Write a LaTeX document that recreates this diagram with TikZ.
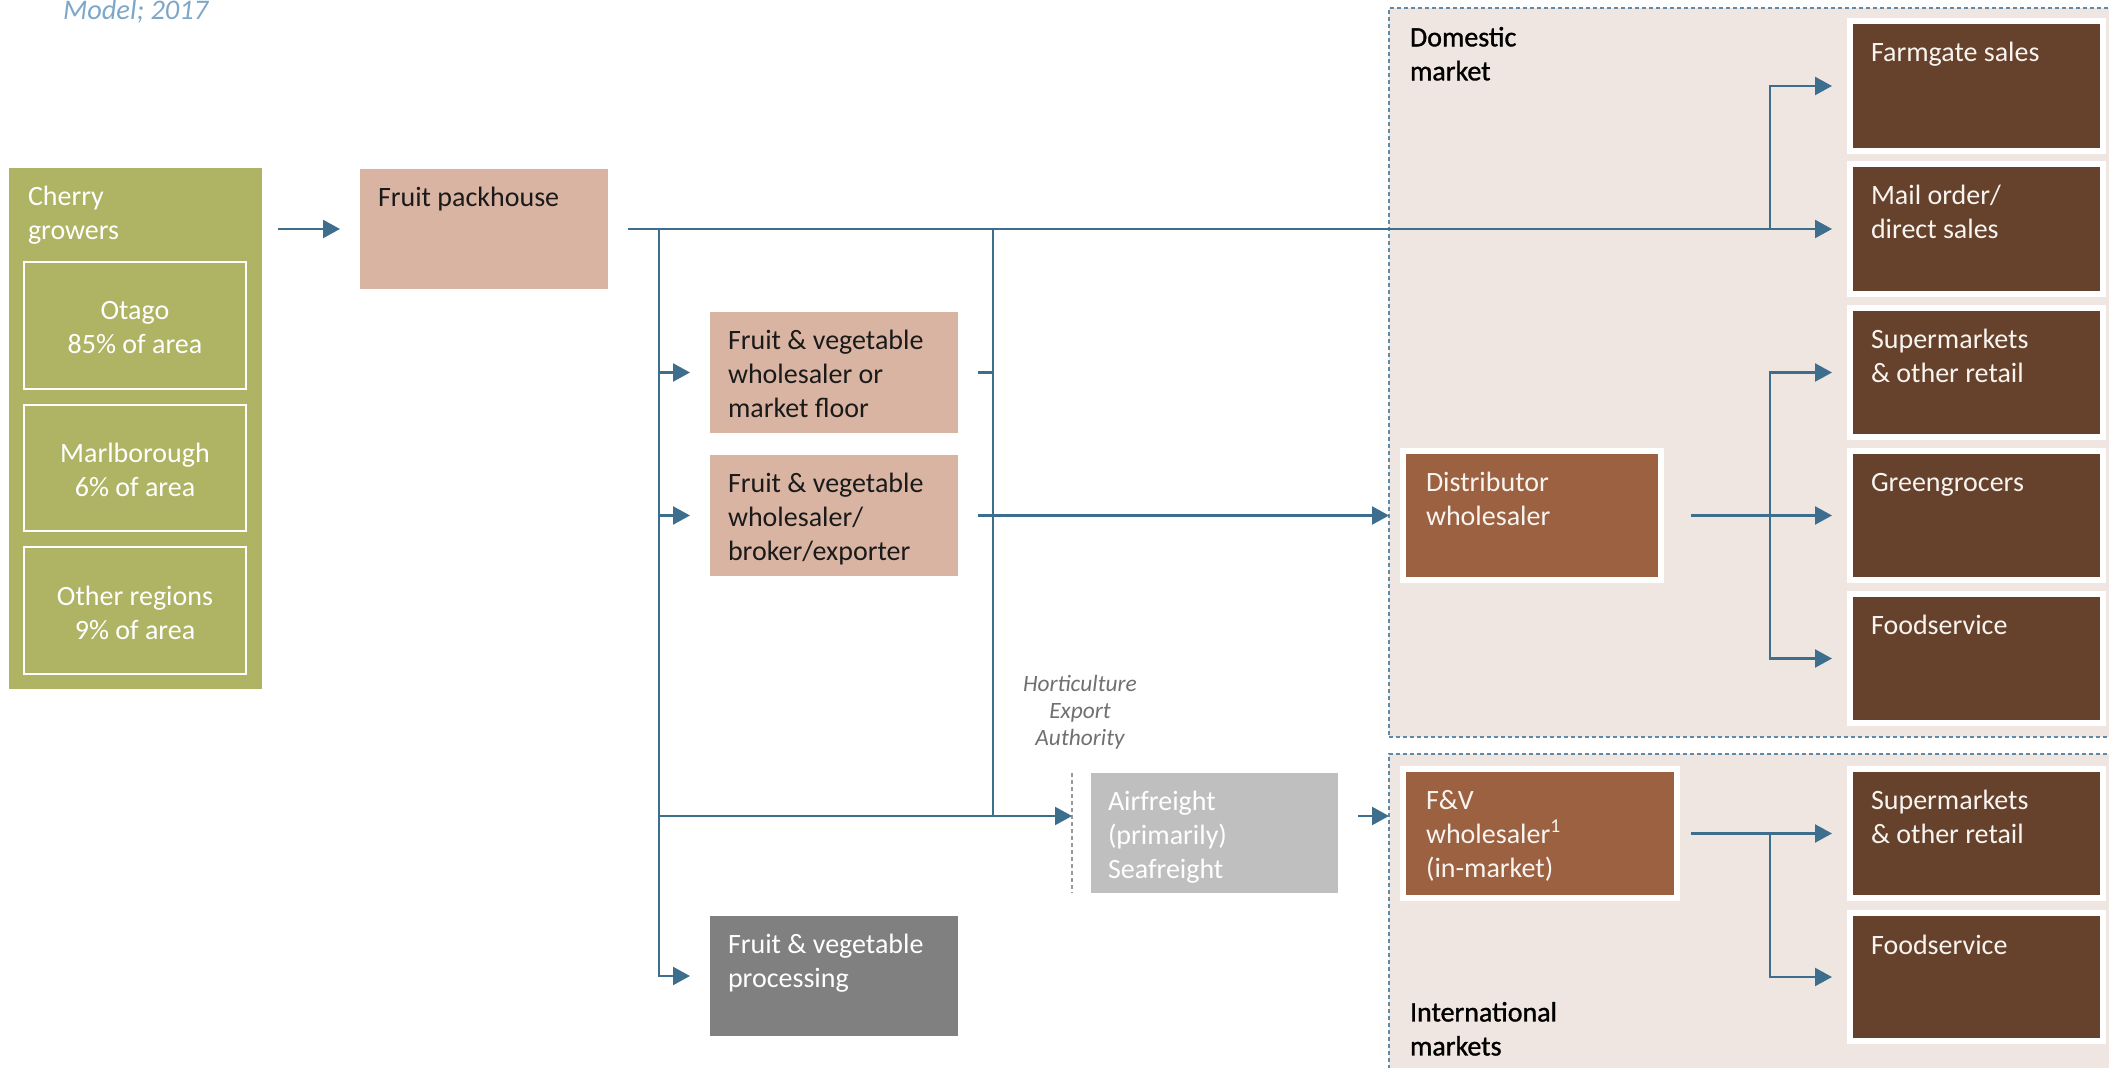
\documentclass[tikz,border=0pt]{standalone}
\usepackage{fontspec}
\setmainfont{Carlito}
\newfontfamily\semib[FakeBold=1.2]{Carlito}
\usetikzlibrary{arrows.meta,fit,calc}
\definecolor{cgreen}{HTML}{AEB463}
\definecolor{cpink}{HTML}{D9B4A2}
\definecolor{cpanel}{HTML}{F0E6E1}
\definecolor{cmid}{HTML}{9B6141}
\definecolor{cdark}{HTML}{66412B}
\definecolor{cgray}{HTML}{808080}
\definecolor{clgray}{HTML}{BFBFBF}
\definecolor{cline}{HTML}{3E6E8E}
\definecolor{cdash}{HTML}{5F89A8}
\definecolor{ctitle}{HTML}{7DA7C9}
\definecolor{ctxt}{HTML}{1A1A1A}
\definecolor{chort}{HTML}{707070}
\definecolor{cwhite}{HTML}{F8F4F0}
\begin{document}
\begin{tikzpicture}[x=0.5pt,y=-0.5pt,
  every node/.style={inner sep=0pt,outer sep=0pt},
  lbl/.style={anchor=north west,align=left,font=\fontsize{14}{17}\selectfont,
    execute at begin node={\rule{0pt}{10pt}}},
  ctr/.style={align=center,font=\fontsize{14}{17}\selectfont,text=white},
  panel/.style={fill=cpanel,draw=cdash,line width=0.75pt,dash pattern=on 2pt off 1.5pt},
  region/.style={draw=white,line width=0.7pt},
  plain/.style={fill=#1},
  framed/.style={fill=#1,draw=white,line width=3pt,inner sep=1.5pt},
  conn/.style={draw=cline,line width=1.15pt},
  arr/.style={conn,-{Triangle[length=8.5pt,width=9pt]}},
  airdash/.style={draw=gray!80,line width=0.6pt,dash pattern=on 2pt off 1.5pt}
]
\useasboundingbox (0,0) rectangle (2109,1068);
\clip (0,0) rectangle (2109,1068);

% title fragment
\node[anchor=base west,font=\fontsize{14.2}{17}\selectfont\itshape,text=ctitle] (title) at (63,20) {Model; 2017};

% market panels
\node[panel,fit={(1389,8) (2140,737)}] (dom) {};
\node[panel,fit={(1389,754) (2140,1090)}] (intl) {};
\node[lbl,font=\semib\fontsize{14}{17}\selectfont,text=black] (domL) at ($(dom.north west)+(21,19)$) {Domestic\\market};
\node[lbl,font=\semib\fontsize{14}{17}\selectfont,text=black] (intlL) at (1410,1002) {International\\markets};

% growers
\node[plain=cgreen,fit={(9,168) (262,689)}] (growers) {};
\node[lbl,text=white] (growersL) at ($(growers.north west)+(19,18)$) {Cherry\\growers};
\node[region,fit={(24,262) (246,389)}] (otago) {};
\node[ctr] (otagoL) at ($(otago.center)+(0,2)$) {Otago\\85\% of area};
\node[region,fit={(24,405) (246,531)}] (marl) {};
\node[ctr] (marlL) at ($(marl.center)+(0,2)$) {Marlborough\\6\% of area};
\node[region,fit={(24,547) (246,674)}] (other) {};
\node[ctr] (otherL) at ($(other.center)+(0,2)$) {Other regions\\9\% of area};

% packhouse and intermediaries
\node[plain=cpink,fit={(360,169) (608,289)}] (pack) {};
\node[lbl,text=ctxt] (packL) at ($(pack.north west)+(18,18)$) {Fruit packhouse};
\node[plain=cpink,fit={(710,312) (958,433)}] (wm) {};
\node[lbl,text=ctxt] (wmL) at ($(wm.north west)+(18,18)$) {Fruit \& vegetable\\wholesaler or\\market floor};
\node[plain=cpink,fit={(710,455) (958,576)}] (wb) {};
\node[lbl,text=ctxt] (wbL) at ($(wb.north west)+(18,18)$) {Fruit \& vegetable\\wholesaler/\\broker/exporter};
\node[plain=cgray,fit={(710,916) (958,1036)}] (proc) {};
\node[lbl,text=white] (procL) at ($(proc.north west)+(18,18)$) {Fruit \& vegetable\\processing};
\node[plain=clgray,fit={(1091,773) (1338,893)}] (air) {};
\node[lbl,text=white] (airL) at ($(air.north west)+(17,18)$) {Airfreight\\(primarily)\\Seafreight};
\node[align=center,font=\fontsize{11.7}{13.5}\selectfont\itshape,text=chort] (hea) at (1080,712) {Horticulture\\Export\\Authority};

% domestic boxes
\node[framed=cmid,fit={(1406,454) (1658,577)}] (dist) {};
\node[lbl,text=cwhite] (distL) at ($(dist.north west)+(23,21)$) {Distributor\\wholesaler};
\node[framed=cdark,fit={(1853,24) (2100,148)}] (farm) {};
\node[lbl,text=cwhite] (farmL) at ($(farm.north west)+(21,21)$) {Farmgate sales};
\node[framed=cdark,fit={(1853,167) (2100,291)}] (mail) {};
\node[lbl,text=cwhite] (mailL) at ($(mail.north west)+(21,21)$) {Mail order/\\direct sales};
\node[framed=cdark,fit={(1853,311) (2100,434)}] (sup) {};
\node[lbl,text=cwhite] (supL) at ($(sup.north west)+(21,21)$) {Supermarkets\\\& other retail};
\node[framed=cdark,fit={(1853,454) (2100,577)}] (gg) {};
\node[lbl,text=cwhite] (ggL) at ($(gg.north west)+(21,21)$) {Greengrocers};
\node[framed=cdark,fit={(1853,597) (2100,720)}] (food) {};
\node[lbl,text=cwhite] (foodL) at ($(food.north west)+(21,21)$) {Foodservice};

% international boxes
\node[framed=cmid,fit={(1406,772) (1674,895)}] (fvw) {};
\node[lbl,text=cwhite] (fvwL) at ($(fvw.north west)+(23,21)$) {F\&V\\wholesaler\textsuperscript{1}\\(in-market)};
\node[framed=cdark,fit={(1853,772) (2100,895)}] (isup) {};
\node[lbl,text=cwhite] (isupL) at ($(isup.north west)+(21,21)$) {Supermarkets\\\& other retail};
\node[framed=cdark,fit={(1853,916) (2100,1038)}] (ifood) {};
\node[lbl,text=cwhite] (ifoodL) at ($(ifood.north west)+(21,21)$) {Foodservice};

% junctions
\coordinate (j1) at (659,229);
\coordinate (j2) at (993,229);
\coordinate (j3) at (1770,229);
\coordinate (airin) at (1072,816);
\coordinate (j5) at (1770,515.5);
\coordinate (j6) at (1770,833.5);

% dashed line before freight
\draw[airdash] (airin |- air.north) -- (airin |- air.south);

% connectors
\draw[arr,shorten <=8pt,shorten >=10pt] (growers.east |- pack.west) -- (pack.west);
\draw[arr,shorten <=10pt,shorten >=9pt] (pack.east) -- (mail.west);
\draw[arr,shorten >=10pt] (j1) |- (proc.west);
\draw[arr,shorten >=10pt] (j1 |- wm.west) -- (wm.west);
\draw[arr,shorten >=10pt] (j1 |- wb.west) -- (wb.west);
\draw[arr] (j1 |- airin) -- (airin);
\draw[conn] (j2) -- (j2 |- airin);
\draw[conn,shorten <=10pt] (wm.east) -- (j2 |- wm.east);
\draw[arr,shorten <=10pt] (wb.east) -- (dom.west |- wb.east);
\draw[arr,shorten <=10pt] (air.east |- airin) -- (intl.west |- airin);
\draw[arr,shorten >=9pt] (j3) |- (farm.west);
\draw[arr,shorten <=15pt,shorten >=9pt] (dist.east) -- (gg.west);
\draw[arr,shorten >=9pt] (j5) |- (sup.west);
\draw[arr,shorten >=9pt] (j5) |- (food.west);
\draw[arr,shorten <=7pt,shorten >=9pt] (fvw.east) -- (isup.west);
\draw[arr,shorten >=9pt] (j6) |- (ifood.west);
\end{tikzpicture}
\end{document}
